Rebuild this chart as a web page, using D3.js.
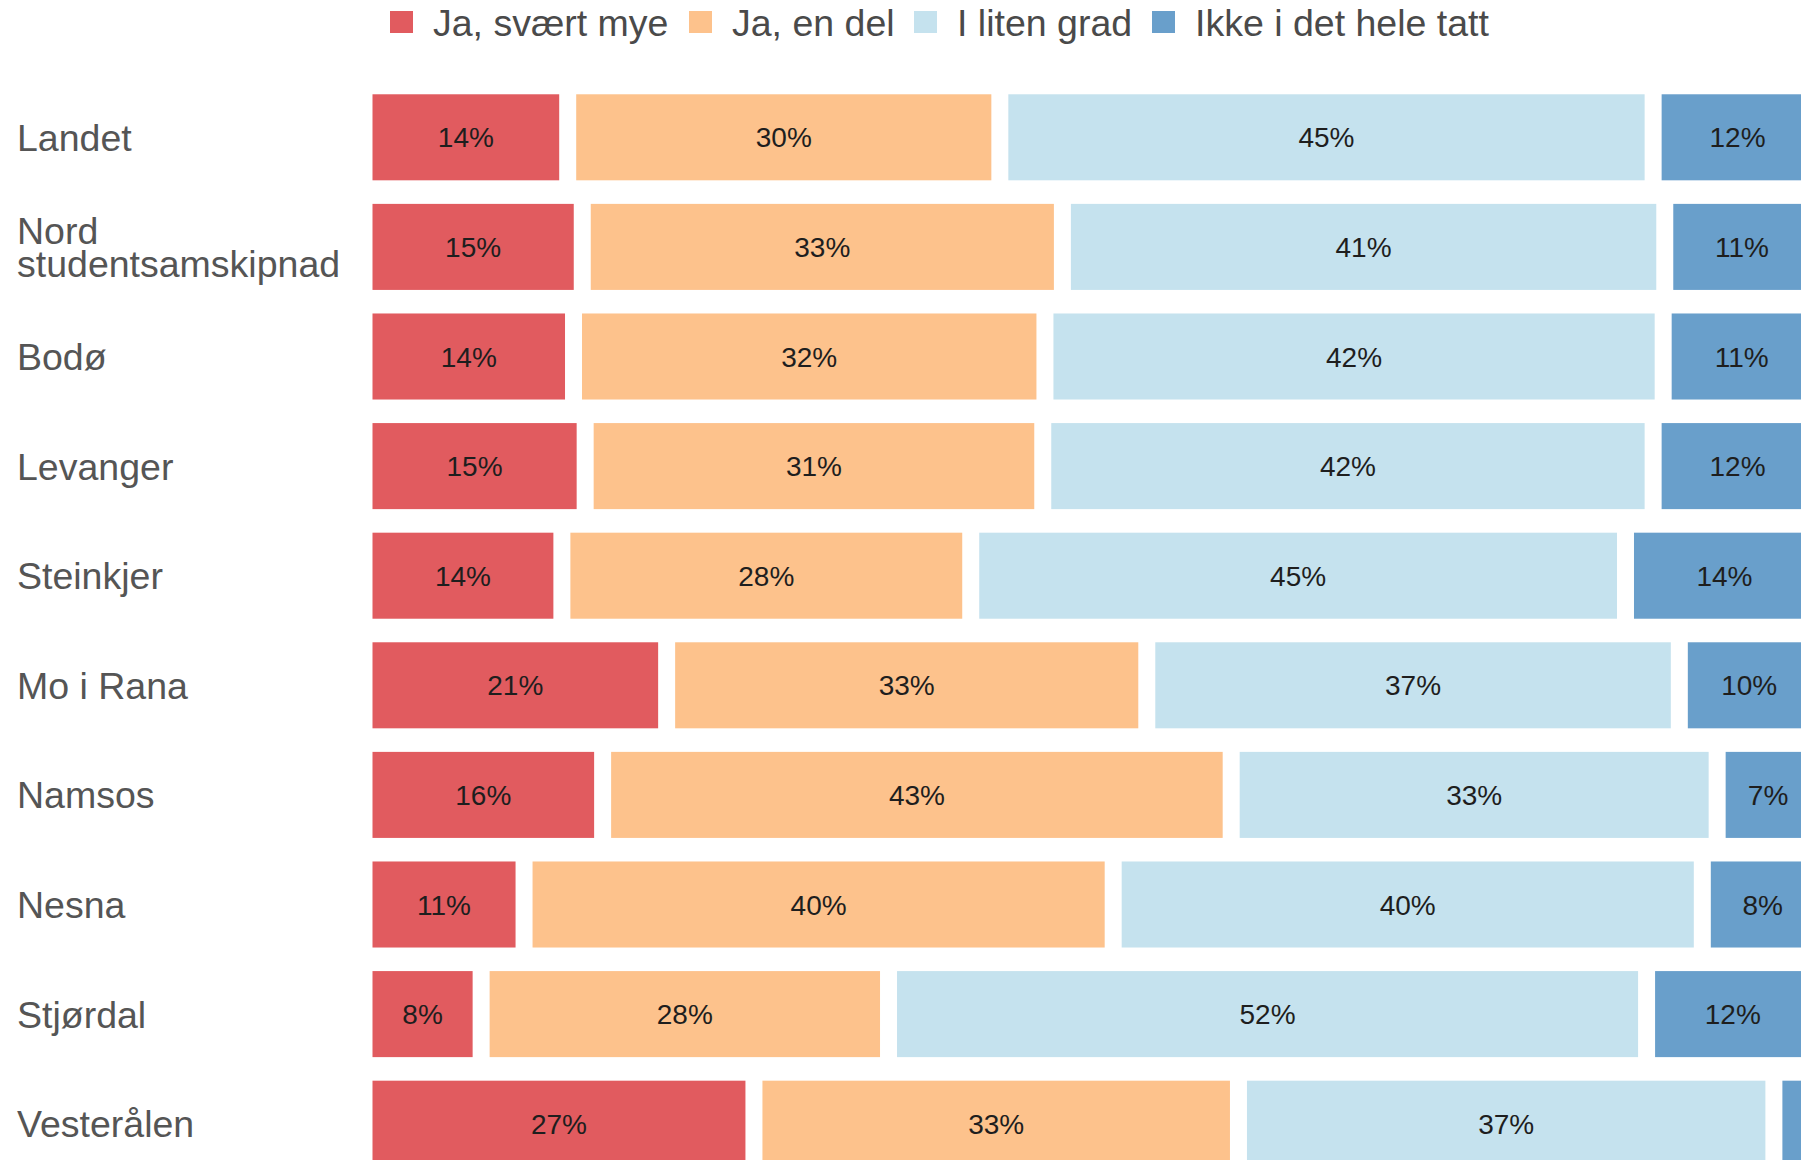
<!DOCTYPE html>
<html>
<head>
<meta charset="utf-8">
<script src="https://cdn.jsdelivr.net/npm/d3@7"></script>
<style>
  html, body { margin: 0; padding: 0; background: #ffffff; overflow: hidden; }
  svg { display: block; }
  text { font-family: "Liberation Sans", Arial, sans-serif; }
</style>
</head>
<body>
<svg id="chart" width="1801" height="1160"></svg>
<script>
// ---- data ----
const categories = ["Landet", "Nord\nstudentsamskipnad", "Bodø", "Levanger", "Steinkjer",
                    "Mo i Rana", "Namsos", "Nesna", "Stjørdal", "Vesterålen"];
const seriesNames = ["Ja, svært mye", "Ja, en del", "I liten grad", "Ikke i det hele tatt"];
const svaertMye  = [14.0, 15.0, 14.4, 15.2, 13.6, 20.8, 16.4, 11.0, 8.05, 26.8];
const enDel      = [29.7, 33.0, 32.4, 31.45, 28.1, 33.0, 43.2, 40.49, 28.0, 33.3];
const litenGrad  = [44.9, 41.4, 42.49, 41.95, 45.0, 36.6, 33.4, 40.49, 52.1, 36.8];
const ikkeIDet   = [11.6, 10.6, 10.8, 11.6, 13.6,  9.6,  7.0,  8.3, 11.85, 3.1];
const seriesColors = ["#e15b5f", "#fdc28c", "#c5e2ee", "#699fcb"];

// ---- build table ----
const seriesValues = [svaertMye, enDel, litenGrad, ikkeIDet];
const table = categories.map((c, i) => {
  const row = { cat: c };
  seriesNames.forEach((s, j) => row[s] = seriesValues[j][i]);
  return row;
});
const stacked = d3.stack().keys(seriesNames)(table);

const svg = d3.select("#chart");

const x = d3.scaleLinear().domain([0, 100]).range([372.5, 372.5 + 1455]);
const step = 109.6;
const y = d3.scaleBand().domain(categories)
  .range([137.3 - step / 2, 137.3 + step * 9.5])
  .paddingInner(0.215).paddingOuter(0.1075);
const color = d3.scaleOrdinal().domain(seriesNames).range(seriesColors);
const gap = 17;

// ---- bars ----
const layer = svg.append("g").selectAll("g")
  .data(stacked).join("g")
  .attr("fill", d => color(d.key));

layer.selectAll("rect")
  .data(d => d.map(p => ({ p, key: d.key })))
  .join("rect")
  .attr("x", d => x(d.p[0]))
  .attr("y", d => y(d.p.data.cat))
  .attr("width", d => Math.max(0, x(d.p[1]) - x(d.p[0]) - gap))
  .attr("height", y.bandwidth());

// ---- value labels (small segments are left unlabelled) ----
const lab = svg.append("g");
stacked.forEach(s => {
  lab.selectAll(null)
    .data(s.filter(p => p[1] - p[0] >= 5))
    .join("text")
    .attr("x", p => (x(p[0]) + x(p[1]) - gap) / 2)
    .attr("y", p => y(p.data.cat) + y.bandwidth() / 2)
    .attr("dy", "0.36em")
    .attr("text-anchor", "middle")
    .attr("font-size", 28)
    .attr("fill", "#1e1e1e")
    .text(p => Math.round(p[1] - p[0]) + "%");
});

// ---- category axis labels ----
const yAxis = svg.append("g");
categories.forEach(c => {
  const lines = c.split("\n");
  const cy = y(c) + y.bandwidth() / 2;
  const lh = 33;
  const t = yAxis.append("text")
    .attr("x", 17)
    .attr("font-size", 37.5)
    .attr("fill", "#555555");
  lines.forEach((ln, k) => {
    t.append("tspan")
      .attr("x", 17)
      .attr("y", cy + (k - (lines.length - 1) / 2) * lh)
      .attr("dy", "0.36em")
      .text(ln);
  });
});

// ---- legend ----
const legendX = [390, 689, 914, 1152];
const leg = svg.append("g");
seriesNames.forEach((s, i) => {
  const g = leg.append("g").attr("transform", `translate(${legendX[i]},22)`);
  g.append("rect").attr("x", 0).attr("y", -11).attr("width", 23).attr("height", 22)
    .attr("fill", color(s));
  g.append("text").attr("x", 43).attr("y", 0).attr("dy", "0.36em")
    .attr("font-size", 37.5).attr("fill", "#4a4a4a").text(s);
});
</script>
</body>
</html>
